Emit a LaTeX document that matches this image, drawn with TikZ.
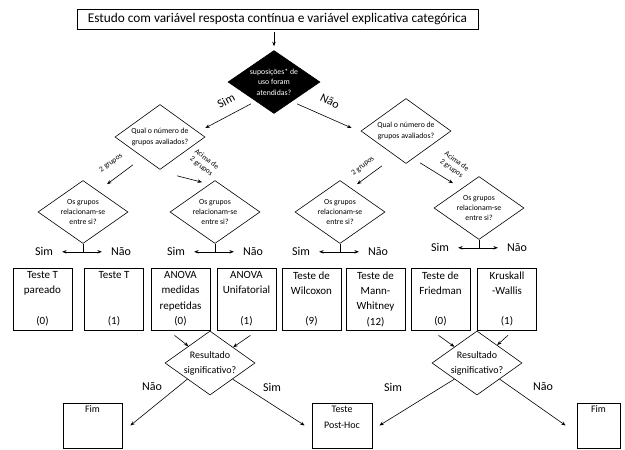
\documentclass[tikz,border=0pt]{standalone}
\usepackage{fontspec}
\setmainfont{Carlito}
\usepackage{tikz}
\usetikzlibrary{arrows.meta,shapes.geometric}
\newcommand{\testbox}[2]{\parbox[t][55pt][t]{57pt}{\centering #1\par\vfill #2}}
\newcommand{\fimbox}[2]{\parbox[t][39pt][t]{#1}{\centering #2}}
\tikzset{
	seta/.style={-{Stealth[length=4.5pt,width=3.5pt]}, line width=0.6pt},
	setadupla/.style={{Stealth[length=4.5pt,width=3.5pt]}-{Stealth[length=4.5pt,width=3.5pt]}, line width=0.6pt},
	decisao/.style={draw, diamond, aspect=1.4, inner xsep=-12pt, inner ysep=-6pt, minimum width=90pt, minimum height=64pt, align=center, font=\fontsize{7.8}{10.4}\selectfont, line width=0.6pt},
	teste/.style={draw, inner xsep=1pt, inner ysep=3.5pt, font=\fontsize{11}{15.3}\selectfont, line width=0.7pt},
	fim/.style={draw, inner xsep=0pt, inner ysep=3pt, font=\fontsize{10}{16}\selectfont, line width=0.7pt},
	simnao/.style={font=\fontsize{12}{14}\selectfont, inner xsep=9pt, inner ysep=2pt},
	rotulo/.style={font=\fontsize{12}{14}\selectfont, inner sep=0pt},
	grupos/.style={font=\fontsize{7.5}{9}\selectfont, align=center, inner sep=0pt}
}

\begin{document}
\begin{tikzpicture}[x=1pt, y=-1pt]
		%%%%% START %%%%%
		\useasboundingbox (0,0) rectangle (625,450);
		
		\node[draw, line width=0.7pt, minimum width=401pt, minimum height=20pt, inner sep=0pt, font=\fontsize{13.3}{15}\selectfont] (titulo) at (277.5,19) {Estudo com variável resposta contínua e variável explicativa categórica};
		
		\node[decisao, fill=black, text=white, minimum width=92pt, minimum height=63pt] (sup) at (274,82) {suposições* de\\uso foram\\atendidas?};
		\draw[seta, shorten <=3pt, shorten >=4pt] (titulo.south -| sup.north) -- (sup.north);
		
		\node[decisao, minimum height=65pt] (q1) at (160,137) {Qual o número de\\grupos avaliados?};
		\node[decisao, minimum height=65pt] (q2) at (406,131) {Qual o número de\\grupos avaliados?};
		
		\draw[seta] ([yshift=-6pt]sup.south west) -- ([yshift=9pt]q1.east);
		\draw[seta] ([yshift=-6pt]sup.south east) -- ([xshift=-9pt,yshift=3pt]q2.west);
		\node[rotulo, rotate=27] (lsim) at (226,101) {Sim};
		\node[rotulo, rotate=-26] (lnao) at (330,101) {Não};
		
		% os grupos relacionam-se
		\node[decisao, minimum height=63pt] (d1) at (83,212) {Os grupos\\relacionam-se\\entre si?};
		\node[decisao, minimum height=63pt] (d2) at (215,212) {Os grupos\\relacionam-se\\entre si?};
		\node[decisao, minimum height=63pt] (d3) at (340,212) {Os grupos\\relacionam-se\\entre si?};
		\node[decisao, minimum height=63pt] (d4) at (479,208) {Os grupos\\relacionam-se\\entre si?};
		
		\draw[seta] ([xshift=-27pt,yshift=5pt]q1.south) -- ([xshift=24pt,yshift=-4pt]d1.north);
		\draw[seta] ([xshift=17pt,yshift=-6pt]q1.south) -- ([xshift=-13pt,yshift=-2pt]d2.north);
		\draw[seta] ([xshift=-24pt,yshift=-2pt]q2.south) -- ([xshift=17pt,yshift=-4pt]d3.north);
		\draw[seta] ([xshift=14pt,yshift=1pt]q2.south) -- ([xshift=-26pt,yshift=-7pt]d4.north);
		\node[grupos, rotate=36] (g1) at (111,163) {2 grupos};
		\node[grupos, rotate=-38] (g2) at (204,163) {Acima de\\2 grupos};
		\node[grupos, rotate=38] (g3) at (363,166) {2 grupos};
		\node[grupos, rotate=-36] (g4) at (454,165) {Acima de\\2 grupos};
		
		\node[simnao] (s1) at ([xshift=-39pt,yshift=-8pt]d1.south) {Sim};
		\node[simnao] (n1) at ([xshift=38pt,yshift=-8pt]d1.south) {Não};
		\draw[line width=0.6pt] (d1.south) -- (d1.south |- s1);
		\draw[setadupla] (s1) -- (n1);
		
		\node[simnao] (s2) at ([xshift=-39pt,yshift=-8pt]d2.south) {Sim};
		\node[simnao] (n2) at ([xshift=38pt,yshift=-8pt]d2.south) {Não};
		\draw[line width=0.6pt] (d2.south) -- (d2.south |- s2);
		\draw[setadupla] (s2) -- (n2);
		
		\node[simnao] (s3) at ([xshift=-39pt,yshift=-8pt]d3.south) {Sim};
		\node[simnao] (n3) at ([xshift=38pt,yshift=-8pt]d3.south) {Não};
		\draw[line width=0.6pt] (d3.south) -- (d3.south |- s3);
		\draw[setadupla] (s3) -- (n3);
		
		\node[simnao] (s4) at ([xshift=-39pt,yshift=-8pt]d4.south) {Sim};
		\node[simnao] (n4) at ([xshift=38pt,yshift=-8pt]d4.south) {Não};
		\draw[line width=0.6pt] (d4.south) -- (d4.south |- s4);
		\draw[setadupla] (s4) -- (n4);
		
		% testes
		\node[teste] (b1) at (42.5,299) {\testbox{Teste T\\pareado}{(0)}};
		\node[teste] (b2) at (114,299) {\testbox{Teste T}{(1)}};
		\node[teste] (b3) at (180.5,299) {\testbox{ANOVA\\medidas\\repetidas}{(0)}};
		\node[teste] (b4) at (246.5,299) {\testbox{ANOVA\\Unifatorial}{(1)}};
		\node[teste] (b5) at (311.5,299) {\testbox{Teste de\\Wilcoxon}{(9)}};
		\node[teste] (b6) at (375.5,299) {\testbox{Teste de\\Mann-\\Whitney}{(12)}};
		\node[teste] (b7) at (440.5,299) {\testbox{Teste de\\Friedman}{(0)}};
		\node[teste] (b8) at (507,299) {\testbox{Kruskall\\-Wallis}{(1)}};
		
		\node[decisao, font=\fontsize{10}{15}\selectfont] (r1) at (210,363) {Resultado\\significativo?};
		\node[decisao, font=\fontsize{10}{15}\selectfont] (r2) at (477,363) {Resultado\\significativo?};
		
		\draw[seta] ([xshift=-6pt,yshift=-5pt]b3.south) -- (r1);
		\draw[seta] ([xshift=4pt,yshift=-5pt]b4.south) -- (r1);
		\draw[seta] ([xshift=-2pt,yshift=-5pt]b7.south) -- (r2);
		\draw[seta] ([xshift=1pt,yshift=-5pt]b8.south) -- (r2);
		
		\node[fim] (fim1) at (92.5,425.5) {\fimbox{59pt}{Fim}};
		\node[fim] (posthoc) at (342,425.5) {\fimbox{60pt}{Teste\\Post-Hoc}};
		\node[fim] (fim2) at (598.5,425.5) {\fimbox{43pt}{Fim}};
		
		\draw[seta] (r1.south west) -- ([xshift=8pt]fim1.east);
		\draw[seta] (r1.south east) -- ([xshift=-7pt]posthoc.west);
		\draw[seta] (r2.south west) -- ([xshift=7pt]posthoc.east);
		\draw[seta] (r2.south east) -- ([xshift=-11pt]fim2.west);
		
		\node[rotulo] (rn1) at (152,387) {Não};
		\node[rotulo] (rs1) at (272,387) {Sim};
		\node[rotulo] (rs2) at (393,387) {Sim};
		\node[rotulo] (rn2) at (543,387) {Não};
		
		%%%%% END %%%%%
\end{tikzpicture}
\end{document}
